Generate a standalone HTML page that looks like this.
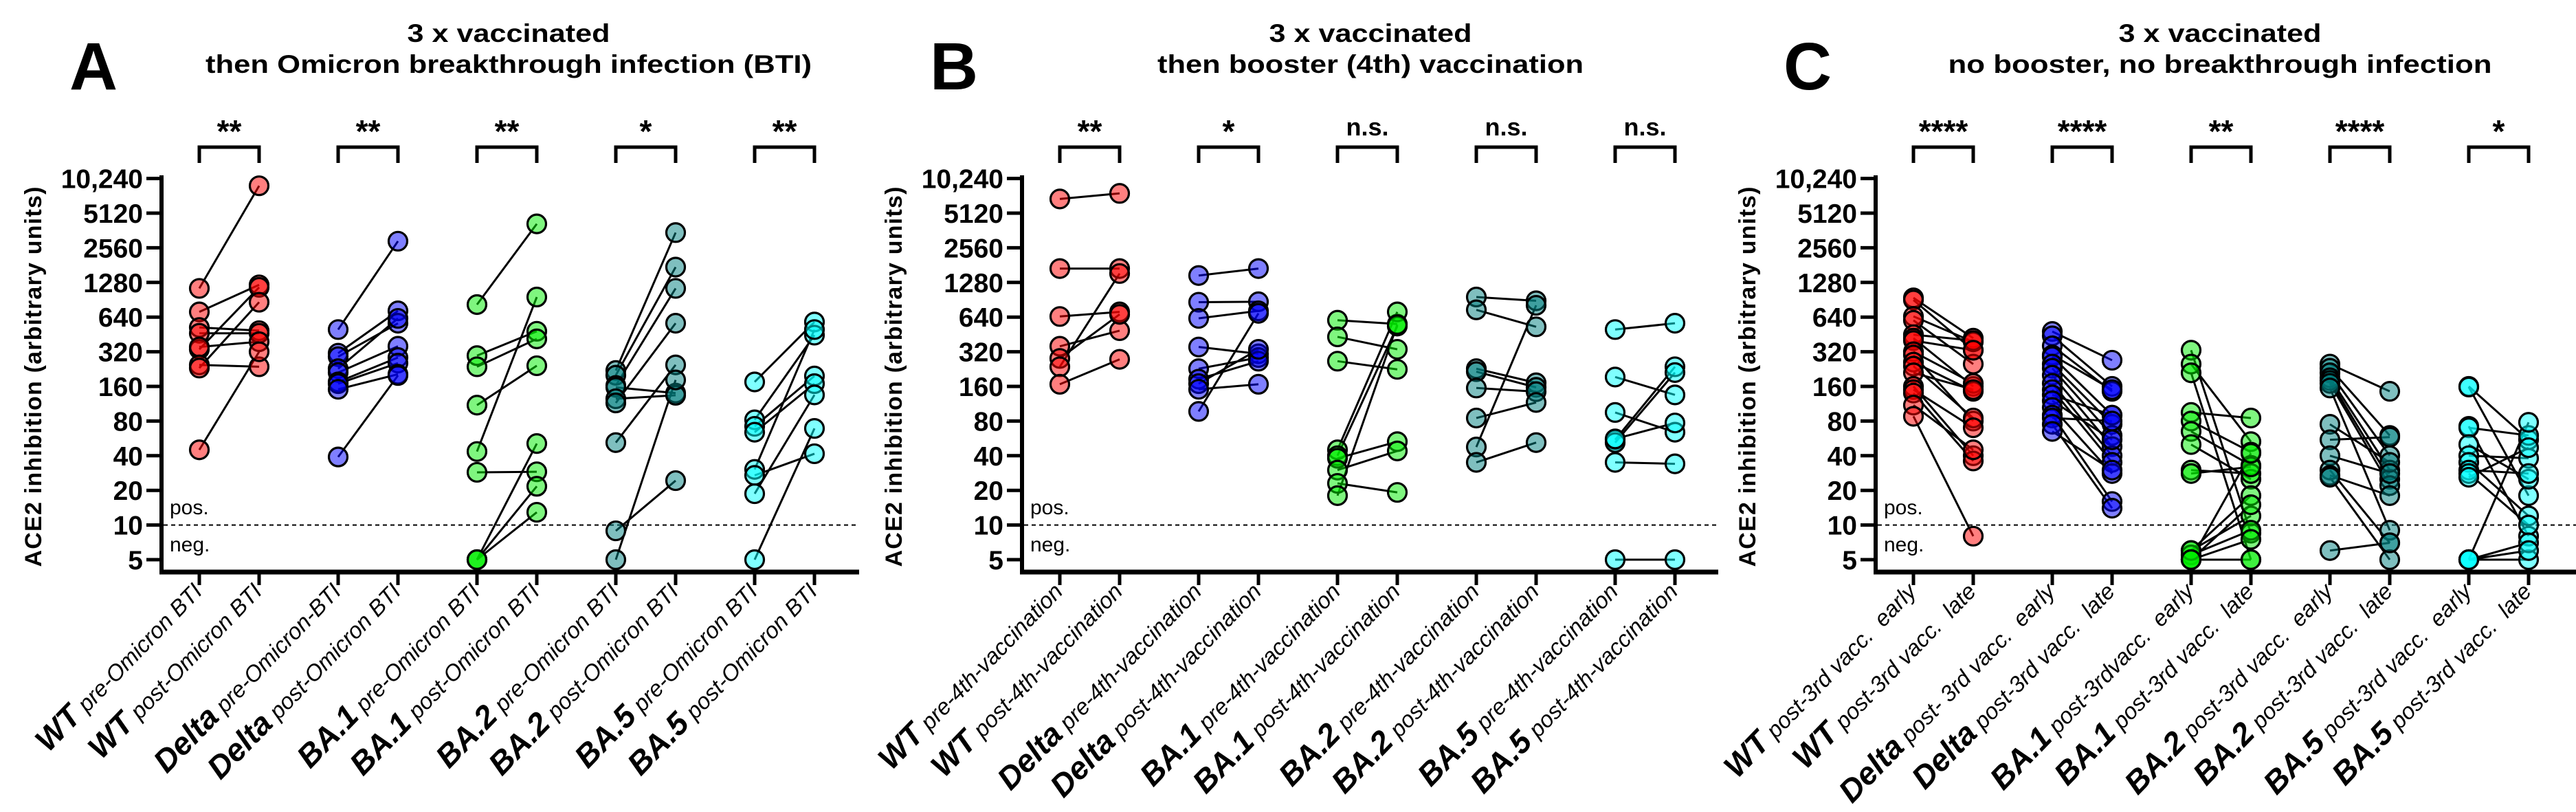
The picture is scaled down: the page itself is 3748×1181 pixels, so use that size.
<!DOCTYPE html>
<html><head><meta charset="utf-8">
<style>
html,body{margin:0;padding:0;background:#fff;}
svg{display:block;font-family:"Liberation Sans",Arial,sans-serif;}
</style></head>
<body>
<svg id="chart" xmlns="http://www.w3.org/2000/svg" width="3748" height="1181" viewBox="0 0 3748 1181"></svg>
<script>
// ---- data (ACE2 inhibition, arbitrary units; pairs = [before, after]) ----
const variants = ["WT","Delta","BA.1","BA.2","BA.5"];
const yTickValues = [5,10,20,40,80,160,320,640,1280,2560,5120,10240];
const yTickLabels = ["5","10","20","40","80","160","320","640","1280","2560","5120","10,240"];

const sigA = ["**","**","**","*","**"];
const sigB = ["**","*","n.s.","n.s.","n.s."];
const sigC = ["****","****","**","****","*"];

const labelsA = [["pre-Omicron BTI","post-Omicron BTI"],["pre-Omicron-BTI","post-Omicron BTI"],["pre-Omicron BTI","post-Omicron BTI"],["pre-Omicron BTI","post-Omicron BTI"],["pre-Omicron BTI","post-Omicron BTI"]];
const labelsB = [["pre-4th-vaccination","post-4th-vaccination"],["pre-4th-vaccination","post-4th-vaccination"],["pre-4th-vaccination","post-4th-vaccination"],["pre-4th-vaccination","post-4th-vaccination"],["pre-4th-vaccination","post-4th-vaccination"]];
const labelsC = [["post-3rd vacc.  early","post-3rd vacc.  late"],["post- 3rd vacc.  early","post-3rd vacc.  late"],["post-3rdvacc.  early","post-3rd vacc.  late"],["post-3rd vacc.  early","post-3rd vacc.  late"],["post-3rd vacc.  early","post-3rd vacc.  late"]];

const A_WT    = [[1137,8850],[710,1220],[520,488],[463,463],[336,1160],[352,391],[246,237],[231,862],[45,320]];
const A_Delta = [[499,2920],[311,725],[290,566],[228,624],[211,357],[175,285],[169,255],[151,204],[39,199]];
const A_BA1   = [[822,4130],[296,482],[237,414],[110,242],[43.5,956],[28.7,29],[5,51],[5,21.7],[5,12.9]];
const A_BA2   = [[220,3470],[200,1740],[163,1137],[157,140],[125,134],[115,566],[52,246],[8.9,24.3],[5,182]];
const A_BA5   = [[175,580],[82,446],[72,197],[64,169],[30.4,499],[27,41.6],[18.7,135],[5,69]];

const B_WT    = [[6800,7600],[1690,1690],[648,710],[357,488],[280,676],[237,1530],[167,275]];
const B_Delta = [[1470,1690],[862,870],[624,725],[352,307],[228,285],[185,265],[169,336],[151,167],[97,690]];
const B_BA1   = [[601,557],[431,336],[265,225],[45,710],[40,535],[38,53],[30,44],[23,19.2],[18,550]];
const B_BA2   = [[956,887],[740,527],[228,172],[215,157],[155,144],[85,116],[47.6,810],[35,52]];
const B_BA5   = [[499,566],[193,135],[95,64],[55,237],[52,211],[35,34],[5,5],[56,77]];

const C_WT    = [[941,420],[900,330],[650,390],[600,250],[450,400],[420,160],[400,330],[320,170],[300,80],[260,145],[240,85],[210,150],[160,40],[150,70],[140,36],[110,45],[88,8]];
const C_Delta = [[480,270],[440,160],[360,145],[300,150],[290,90],[250,75],[230,60],[200,48],[170,40],[150,35],[135,90],[120,55],[105,28],[90,16],[85,80],[75,14],[65,30]];
const C_BA1   = [[330,8.5],[250,53],[210,5],[95,85],[80,43],[65,33],[50,25],[30,28],[28,32],[6,12],[5.5,9],[5,7.5],[5,5],[6,18],[5,42],[5,15]];
const C_BA2   = [[250,145],[230,60],[210,40],[190,30],[180,25],[170,22],[155,9],[75,35],[55,58],[40,28],[30,7],[27,18],[26,5],[6,7]];
const C_BA5   = [[160,55],[158,18],[72,8],[70,60],[50,25],[40,38],[35,12],[30,28],[28,10],[26,47],[5,5],[5,7],[5,6],[5,78]];

const colors = ["#ff0000","#0000ff","#00ee00","#008080","#00ffff"];

// ---- scales ----
const Y5 = 814, DOUBLING = 50.4;
function yScale(v){ return Y5 - DOUBLING*Math.log2(v/5); }
function catX(off, g, k){ return off + 290 + g*202 + k*87; }

const NS = "http://www.w3.org/2000/svg";
const svg = document.getElementById("chart");
function mk(tag, attrs, parent){
  const e = document.createElementNS(NS, tag);
  for (const k in attrs) e.setAttribute(k, attrs[k]);
  (parent||svg).appendChild(e);
  return e;
}

const panels = [
  {id:"a", off:0, letter:"A", t1:"3 x vaccinated", t2:"then Omicron breakthrough infection (BTI)", t2w:882, sig:sigA, labels:labelsA, data:[A_WT,A_Delta,A_BA1,A_BA2,A_BA5], right:1250},
  {id:"b", off:1252, letter:"B", t1:"3 x vaccinated", t2:"then booster (4th) vaccination", t2w:620, sig:sigB, labels:labelsB, data:[B_WT,B_Delta,B_BA1,B_BA2,B_BA5], right:2500},
  {id:"c", off:2494, letter:"C", t1:"3 x vaccinated", t2:"no booster, no breakthrough infection", t2w:791, sig:sigC, labels:labelsC, data:[C_WT,C_Delta,C_BA1,C_BA2,C_BA5], right:3748}
];

panels.forEach(p=>{
  const g = mk("g", {});
  
  
  const off = p.off;
  const ax = 235 + off;
  const cx = 740 + off + (p.id==="b"?2:(p.id==="c"?-4:0));

  const L = mk("text", {x:101+off, y:130, "font-size":97, "font-weight":"bold"}, g);
  
  
  L.textContent = p.letter;

  const t1 = mk("text", {x:cx, y:61, "font-size":37, "font-weight":"bold", "text-anchor":"middle", textLength:295, lengthAdjust:"spacingAndGlyphs"}, g);
  
  
  t1.textContent = p.t1;
  const t2 = mk("text", {x:cx, y:106, "font-size":37, "font-weight":"bold", "text-anchor":"middle", textLength:p.t2w, lengthAdjust:"spacingAndGlyphs"}, g);
  
  
  t2.textContent = p.t2;

  // y axis title
  const yt = mk("text", {x:0, y:0, transform:`translate(${60+off},548) rotate(-90)`, "font-size":34, "font-weight":"bold", "text-anchor":"middle", textLength:553, lengthAdjust:"spacing"}, g);
  
  
  yt.textContent = "ACE2 inhibition (arbitrary units)";

  // axes
  const yAxis = mk("line", {x1:ax, y1:255, x2:ax, y2:835, stroke:"#000", "stroke-width":6}, g);
  
  
  const xAxis = mk("line", {x1:ax-3, y1:832, x2:p.right, y2:832, stroke:"#000", "stroke-width":7}, g);
  
  

  yTickValues.forEach((v,i)=>{
    const y = yScale(v);
    const tk = mk("line", {x1:ax-22, y1:y, x2:ax, y2:y, stroke:"#000", "stroke-width":5}, g);
    
    
    const tl = mk("text", {x:ax-27, y:y+14, "font-size":39, "font-weight":"bold", "text-anchor":"end"}, g);
    
    
    tl.textContent = yTickLabels[i];
  });

  // cutoff line
  const cut = mk("line", {x1:ax+3, y1:yScale(10), x2:p.right, y2:yScale(10), stroke:"#000", "stroke-width":2, "stroke-dasharray":"6 5"}, g);
  
  
  const pos = mk("text", {x:ax+12, y:748, "font-size":30}, g);
  
  
  pos.textContent = "pos.";
  const neg = mk("text", {x:ax+12, y:802, "font-size":30}, g);
  
  
  neg.textContent = "neg.";

  variants.forEach((vn, gi)=>{
    const x0 = catX(off, gi, 0), x1 = catX(off, gi, 1);
    // brackets & significance
    const br = mk("polyline", {points:`${x0},237 ${x0},214 ${x1},214 ${x1},237`, fill:"none", stroke:"#000", "stroke-width":5}, g);
    
    
    const sig = p.sig[gi];
    const st = mk("text", {x:(x0+x1)/2, y: sig==="n.s."?197:207, "font-size": sig==="n.s."?36:46, "font-weight":"bold", "text-anchor":"middle"}, g);
    
    
    st.textContent = sig;

    // x ticks and labels
    [x0,x1].forEach((x,k)=>{
      const xt = mk("line", {x1:x, y1:832, x2:x, y2:851, stroke:"#000", "stroke-width":5}, g);
      
      
      const lab = mk("text", {transform:`translate(${x+6},862) rotate(-46)`, "text-anchor":"end", "font-style":"italic"}, g);
      
      
      lab.setAttribute("xml:space","preserve");
      lab.style.whiteSpace = "pre";
      const s1 = mk("tspan", {"font-size":46, "font-weight":"bold"}, lab);
      s1.textContent = vn;
      const s2 = mk("tspan", {"font-size":33}, lab);
      s2.textContent = " " + p.labels[gi][k];
    });

    // pair lines then points
    const pairs = p.data[gi];
    pairs.forEach(pr=>{
      const ln = mk("line", {x1:x0, y1:yScale(pr[0]), x2:x1, y2:yScale(pr[1]), stroke:"#000", "stroke-width":3}, g);
      
      
    });
    pairs.forEach(pr=>{
      [0,1].forEach(k=>{
        const c = mk("circle", {cx:k?x1:x0, cy:yScale(pr[k]), r:13.5, fill:colors[gi], "fill-opacity":0.5, stroke:"#000", "stroke-width":3.2}, g);
        
        
      });
    });
  });
});
</script>
</body></html>
